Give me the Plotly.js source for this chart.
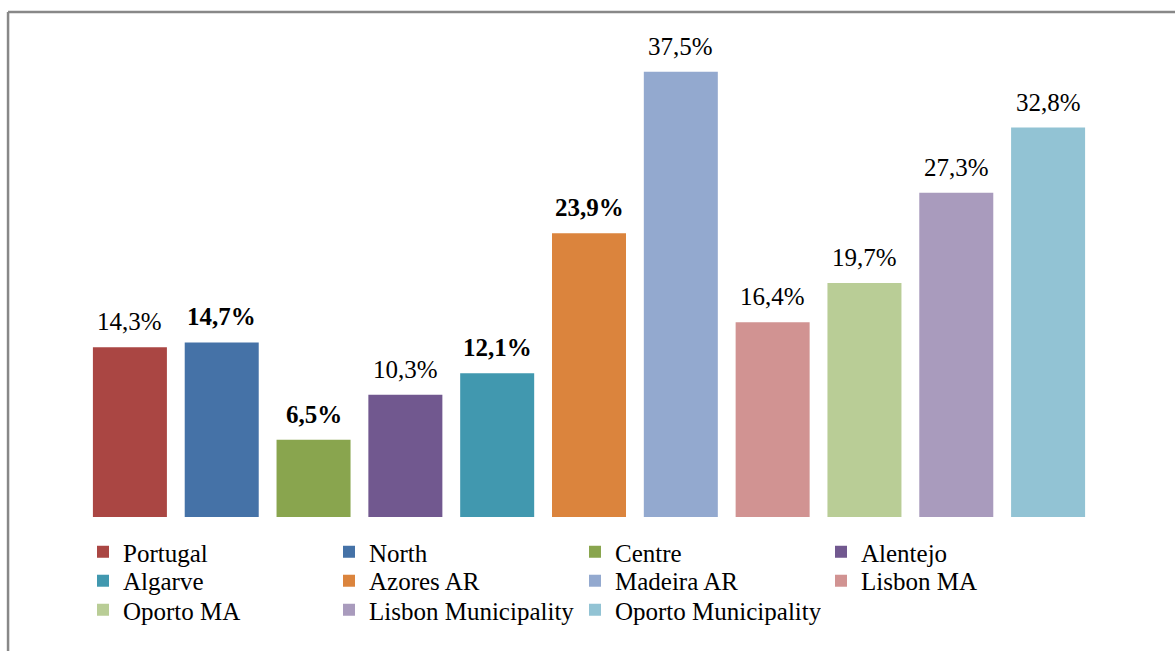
<!DOCTYPE html>
<html>
<head>
<meta charset="utf-8">
<script src="https://cdn.plot.ly/plotly-3.0.1.min.js"></script>
<style>html,body{margin:0;padding:0;background:#fff;}#chart{width:1175px;height:651px;}</style>
</head>
<body>
<div id="chart"></div>
<script>
// Data
const categories = ["Portugal", "North", "Centre", "Alentejo", "Algarve", "Azores AR", "Madeira AR", "Lisbon MA", "Oporto MA", "Lisbon Municipality", "Oporto Municipality"];
const values = [14.3, 14.7, 6.5, 10.3, 12.1, 23.9, 37.5, 16.4, 19.7, 27.3, 32.8];
const valueLabels = ["14,3%", "14,7%", "6,5%", "10,3%", "12,1%", "23,9%", "37,5%", "16,4%", "19,7%", "27,3%", "32,8%"];

// Styles
const barColors = ["#AA4643", "#4572A7", "#89A54E", "#71588F", "#4198AF", "#DB843D", "#93A9CF", "#D19392", "#B9CD96", "#A99BBD", "#92C3D4"];
const boldLabel = [false, true, true, false, true, true, false, false, false, false, false];

const FONT = '"Liberation Serif", "Times New Roman", serif';
const legendIds = ['legend', 'legend2', 'legend3'];

const traces = categories.map((c, i) => ({
  type: 'bar',
  name: c,
  x: [c],
  y: [values[i]],
  marker: {color: barColors[i]},
  legend: legendIds[Math.floor(i / 4)],
  hoverinfo: 'skip'
}));

const annotations = categories.map((c, i) => ({
  x: c, y: values[i], xref: 'x', yref: 'y',
  text: valueLabels[i],
  showarrow: false,
  yanchor: 'bottom',
  yshift: 10,
  font: {family: FONT, size: 25, color: '#000', weight: boldLabel[i] ? 'bold' : 'normal'}
}));

function legendRow(y) {
  return {
    orientation: 'h', x: -0.001, xanchor: 'left', y: y, yanchor: 'middle',
    font: {family: FONT, size: 25, color: '#000'},
    entrywidth: 201, entrywidthmode: 'pixels',
    traceorder: 'normal', bgcolor: 'rgba(0,0,0,0)'
  };
}

const layout = {
  width: 1175, height: 651,
  margin: {l: 84, r: 81, t: 42, b: 134, autoexpand: false},
  paper_bgcolor: '#fff', plot_bgcolor: '#fff',
  barmode: 'overlay',
  bargap: 0.194,
  showlegend: true,
  xaxis: {type: 'category', categoryarray: categories, showticklabels: false, showgrid: false, zeroline: false, showline: false, ticks: ''},
  yaxis: {range: [0, 40], showticklabels: false, showgrid: false, zeroline: false, showline: false, ticks: ''},
  legend: legendRow(-0.0737),
  legend2: legendRow(-0.1347),
  legend3: legendRow(-0.1958),
  annotations: annotations,
  shapes: [
    {type: 'line', xref: 'paper', yref: 'paper', x0: -0.0752, x1: 1.09, y0: 1.063, y1: 1.063, line: {color: '#888888', width: 2.5}},
    {type: 'line', xref: 'paper', yref: 'paper', x0: -0.0752, x1: -0.0752, y0: 1.063, y1: -0.31, line: {color: '#888888', width: 2.5}}
  ]
};

Plotly.newPlot('chart', traces, layout, {displayModeBar: false, staticPlot: true});
</script>
</body>
</html>
